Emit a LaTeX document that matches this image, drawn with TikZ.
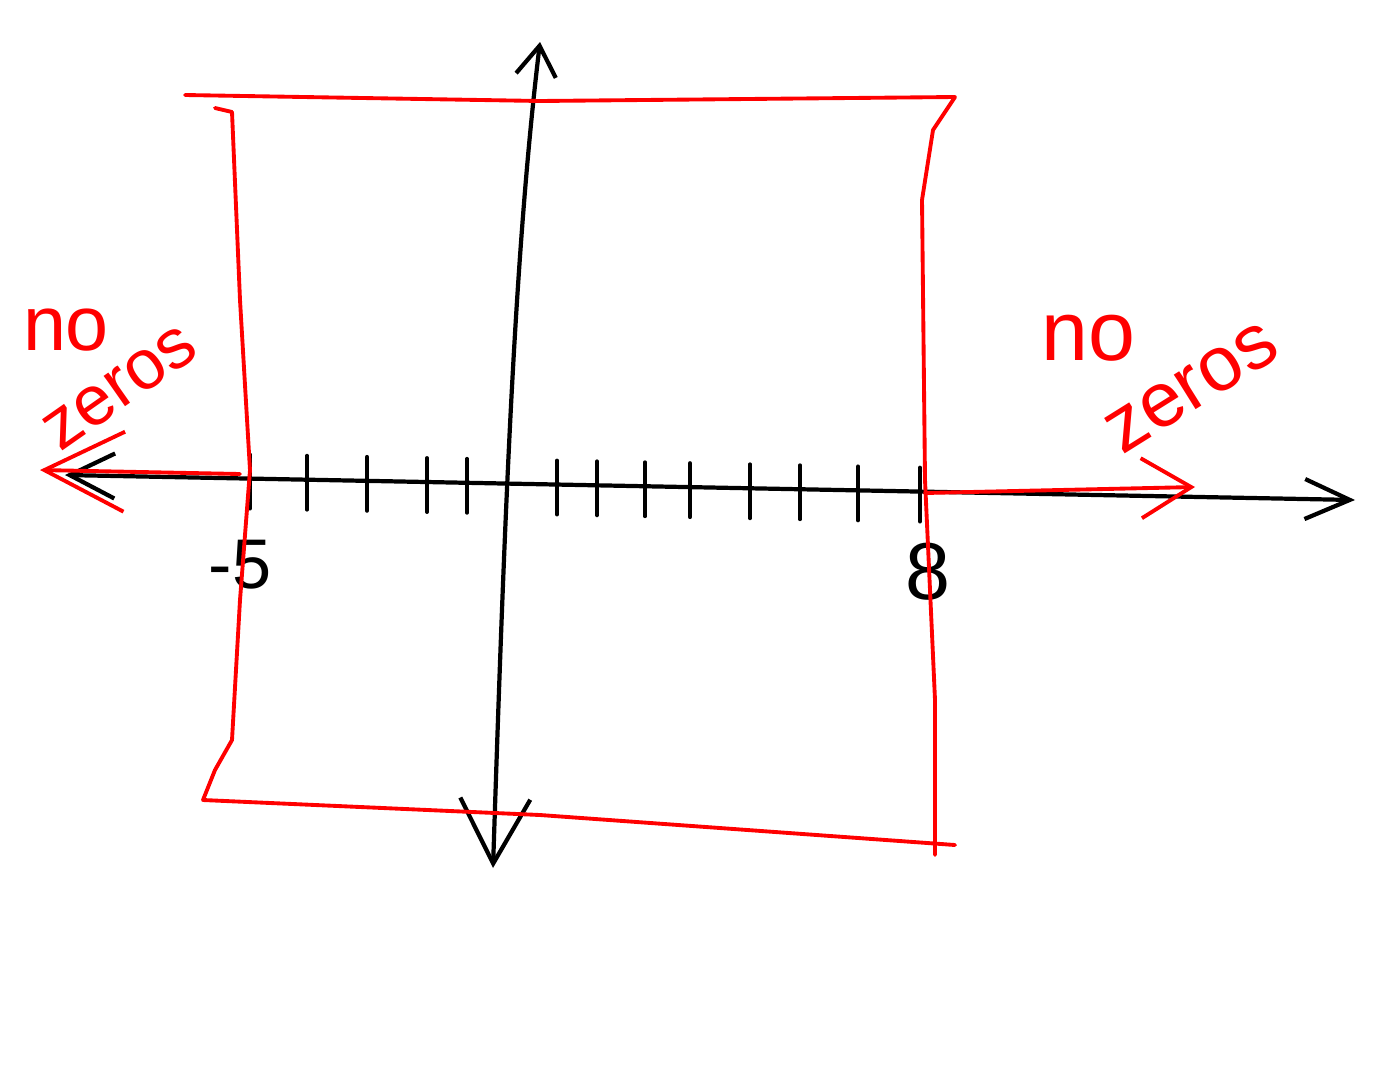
\documentclass[tikz,border=0pt]{standalone}
\usepackage{fontspec}
\setmainfont{Liberation Sans}
\usetikzlibrary{arrows.meta}

\tikzset{
  axis/.style={line width=2.4pt, line cap=round, line join=round},
  frame/.style={red, line width=2.2pt, line cap=round, line join=round},
  tick/.style={line width=2.2pt, line cap=round},
  numlbl/.style={inner sep=0pt, font=\fontsize{40}{40}\selectfont},
  note/.style={red, inner sep=0pt, font=\fontsize{44}{44}\selectfont}
}

\begin{document}
\begin{tikzpicture}[x=0.02cm, y=-0.02cm]
  \useasboundingbox (0,0) rectangle (1391,1072);

  % axes end points
  \coordinate (xl) at (65,475);
  \coordinate (xr) at (1355,500);
  \coordinate (yt) at (540,42);
  \coordinate (yb) at (493,868);

  % number line with its ticks
  \draw[axis, {Straight Barb[length=0.9cm, width=0.9cm]}-{Straight Barb[length=0.9cm, width=0.8cm]}]
    (xl) -- (xr);
  \draw[axis, {Straight Barb[length=1.3cm, width=1.4cm]}-{Straight Barb[length=0.6cm, width=0.8cm]}]
    (yb) .. controls (505,500) and (515,250) .. (yt);
  \foreach \x in {250,307,367,427,467,557,597,645,690,750,800,858,920} {
    \pgfmathsetmacro\ty{475+(\x-65)/51.6}
    \draw[tick] (\x,\ty-24) -- (\x,\ty+30);
  }
  \node[numlbl] (m5) at (240,565) {-5};
  \node[numlbl, font=\fontsize{46}{46}\selectfont] (p8) at (928,572) {8};

  % red frame
  \draw[frame] (185,95) -- (540,101) -- (955,97) -- (933,130) -- (922,200)
    -- (925,480) -- (935,700) -- (935,855);
  \draw[frame] (215,108) -- (232,112) -- (240,300) -- (250,470) -- (240,600)
    -- (232,740) -- (215,770) -- (203,800) -- (540,815) -- (955,845);

  % red arrows out of the frame
  \coordinate (fl) at (240,474);
  \coordinate (al) at (40,470);
  \coordinate (fr) at (925,493);
  \coordinate (ar) at (1195,487);
  \draw[frame, -{Straight Barb[length=1.6cm, width=1.6cm]}] (fl) -- (al);
  \draw[frame, -{Straight Barb[length=1cm, width=1.2cm]}] (fr) -- (ar);

  % notes
  \node[note] (noL) at (66,330) {no};
  \node[note, rotate=35, font=\fontsize{40}{40}\selectfont] (zerosL) at (120,388) {zeros};
  \node[note, font=\fontsize{48}{48}\selectfont] (noR) at (1088,338) {no};
  \node[note, rotate=32] (zerosR) at (1192,388) {zeros};
\end{tikzpicture}
\end{document}
